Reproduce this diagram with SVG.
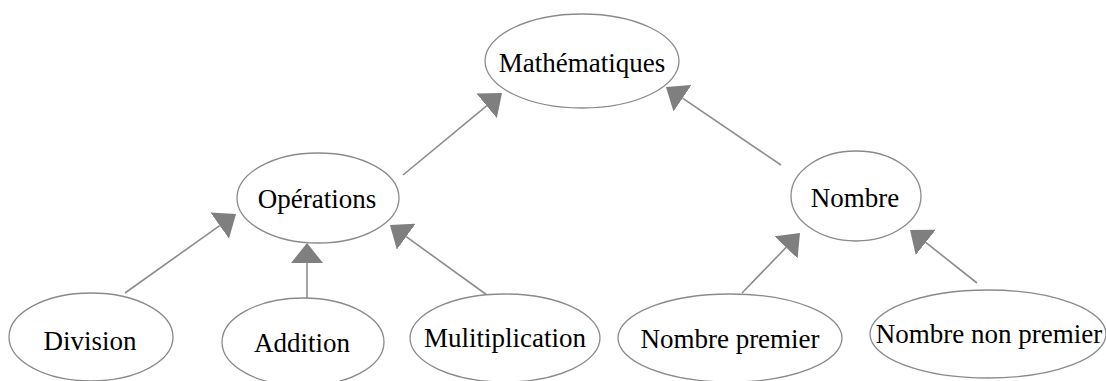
<svg xmlns="http://www.w3.org/2000/svg" width="1106" height="381" viewBox="0 0 1106 381">
  <style>
    .node ellipse { fill: #ffffff; stroke: #8a8a8a; stroke-width: 1.3; }
    .node text { font-family: "Liberation Serif", "Times New Roman", serif; font-size: 27px; fill: #000000; text-anchor: middle; }
    .edge { stroke: #8c8c8c; stroke-width: 1.6; fill: none; marker-end: url(#arrow); }
  </style>
  <defs>
    <marker id="arrow" viewBox="0 0 20 32" markerWidth="20" markerHeight="32" markerUnits="userSpaceOnUse" refX="0" refY="16" orient="auto">
      <path d="M0,0 L20,16 L0,32 Z" fill="#7f7f7f"/>
    </marker>
  </defs>
  <rect width="1106" height="381" fill="#ffffff"/>

  <g id="connectors">
    <line class="edge" x1="403" y1="175" x2="486.6" y2="105.8"/>
    <line class="edge" x1="781" y1="165" x2="682.5" y2="98.2"/>
    <line class="edge" x1="125" y1="293" x2="219.7" y2="225.6"/>
    <line class="edge" x1="307" y1="298" x2="307" y2="263"/>
    <line class="edge" x1="487" y1="295" x2="406.2" y2="236.7"/>
    <line class="edge" x1="742" y1="293" x2="786.1" y2="247.4"/>
    <line class="edge" x1="977" y1="283" x2="925.7" y2="242.4"/>
  </g>

  <g id="mathematiques" class="node">
    <ellipse cx="582" cy="61" rx="97" ry="47"/>
    <text x="582" y="72">Mathématiques</text>
  </g>
  <g id="operations" class="node">
    <ellipse cx="318" cy="198" rx="81" ry="45"/>
    <text x="317" y="208">Opérations</text>
  </g>
  <g id="nombre" class="node">
    <ellipse cx="856" cy="196" rx="65" ry="45"/>
    <text x="855" y="207">Nombre</text>
  </g>
  <g id="division" class="node">
    <ellipse cx="91" cy="337" rx="82" ry="44"/>
    <text x="90" y="350">Division</text>
  </g>
  <g id="addition" class="node">
    <ellipse cx="303" cy="342" rx="81" ry="44"/>
    <text x="302" y="352">Addition</text>
  </g>
  <g id="multiplication" class="node">
    <ellipse cx="505" cy="338" rx="95" ry="44"/>
    <text x="505" y="347">Mulitiplication</text>
  </g>
  <g id="nombre-premier" class="node">
    <ellipse cx="730" cy="338" rx="112" ry="44"/>
    <text x="730" y="348">Nombre premier</text>
  </g>
  <g id="nombre-non-premier" class="node">
    <ellipse cx="988" cy="334" rx="118" ry="44"/>
    <text x="989" y="343">Nombre non premier</text>
  </g>
</svg>
